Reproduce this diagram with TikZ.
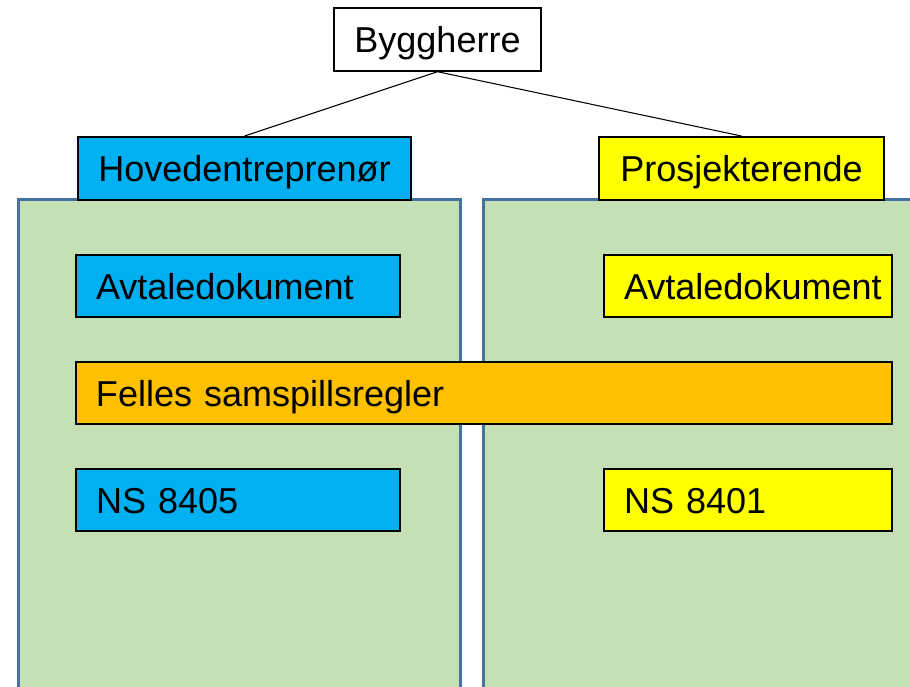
\documentclass[tikz,border=0pt]{standalone}
\usepackage{fontspec}
\setmainfont{Liberation Sans}
\usepackage{tikz}
\usetikzlibrary{positioning}

\definecolor{panelgronn}{RGB}{197,224,180}
\definecolor{panelkant}{RGB}{70,114,160}
\definecolor{hovedbla}{RGB}{0,176,240}
\definecolor{prosjgul}{RGB}{255,255,0}
\definecolor{fellesoransje}{RGB}{255,192,0}

\begin{document}
\begin{tikzpicture}[
  font=\fontsize{20.5}{24}\selectfont,
  panel/.style={
    draw=panelkant, line width=1.6pt, fill=panelgronn,
    anchor=north west, inner sep=0pt
  },
  topp/.style={
    draw=black, line width=0.8pt, fill=white,
    minimum height=1.26cm, inner sep=0pt,
    text height=0.52cm, text depth=0pt
  },
  boks/.style={
    draw=black, line width=1.1pt, align=left,
    minimum height=1.24cm, inner xsep=0.4cm, inner ysep=0pt,
    text height=0.52cm, text depth=0pt
  },
  hoved/.style={boks, fill=hovedbla},
  prosj/.style={boks, fill=prosjgul},
  felles/.style={boks, fill=fellesoransje},
  linje/.style={line width=0.6pt, draw=black}
]
  \useasboundingbox (0,0) rectangle (18.2,-13.74);
  \clip (0,0) rectangle (18.2,-13.74);

  % bakgrunnsfelt
  \node[panel, minimum width=8.84cm, minimum height=10.5cm] (vpanel) at (0.34,-3.96) {};
  \node[panel, minimum width=9.5cm, minimum height=10.5cm] (hpanel) at (9.64,-3.96) {};

  \node[topp, minimum width=4.14cm] (bh) at (8.75,-0.79) {Byggherre};
  \node[topp, line width=1.1pt, fill=hovedbla, minimum width=6.66cm] (he) at (4.89,-3.37) {Hovedentreprenør};
  \node[topp, line width=1.1pt, fill=prosjgul, minimum width=5.7cm] (pr) at (14.83,-3.37) {Prosjekterende};

  \draw[linje] (bh.south) -- (he.north);
  \draw[linje] (bh.south) -- (pr.north);

  \node[hoved, text width=5.68cm] (avtv) at (4.76,-5.72) {Avtaledokument};
  \node[prosj, text width=4.96cm] (avth) at (14.96,-5.72) {Avtaledokument};
  \node[felles, text width=15.52cm] (sams) at (9.68,-7.86) {Felles samspillsregler};
  \node[hoved, text width=5.68cm] (nsv) at (4.76,-10.0) {NS 8405};
  \node[prosj, text width=4.96cm] (nsh) at (14.96,-10.0) {NS 8401};
\end{tikzpicture}
\end{document}
